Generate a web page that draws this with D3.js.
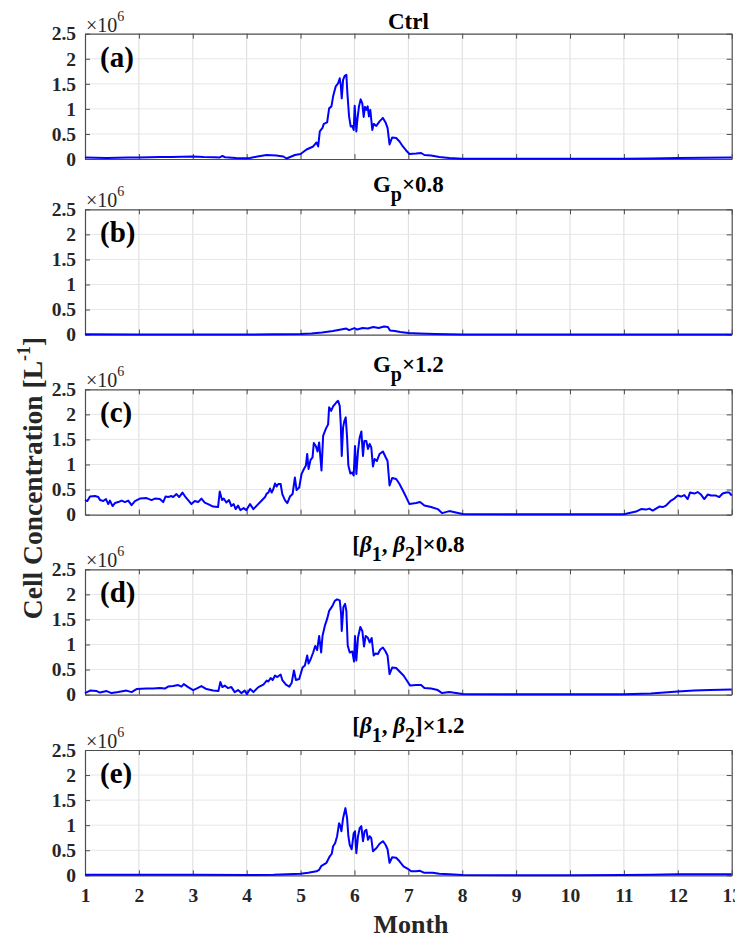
<!DOCTYPE html>
<html><head><meta charset="utf-8">
<script src="https://cdn.jsdelivr.net/npm/d3@7"></script>
<style>
html,body{margin:0;padding:0;background:#fff;}
svg{display:block;}
</style></head>
<body>
<svg id="chart" width="735" height="942"></svg>
<script>
// ---- data (values in units of 10^6 cells per litre) ----
const xTicks = [1,2,3,4,5,6,7,8,9,10,11,12,13];
const yTicks = [0,0.5,1,1.5,2,2.5];
const panelLabels = ["(a)","(b)","(c)","(d)","(e)"];

const monthsA = [1.0,1.2,1.4,1.6,1.8,2.0,2.2,2.4,2.6,2.8,3.0,3.2,3.4,3.5,3.55,3.6,3.8,4.0,4.06,4.2,4.37,4.55,4.68,4.74,4.895,5.0,5.111,5.234,5.296,5.327,5.357,5.407,5.431,5.493,5.53,5.573,5.604,5.653,5.696,5.727,5.746,5.764,5.789,5.819,5.85,5.869,5.9,5.93,5.961,5.986,6.004,6.035,6.054,6.084,6.115,6.146,6.171,6.195,6.22,6.245,6.269,6.294,6.331,6.356,6.405,6.466,6.528,6.577,6.614,6.651,6.7,6.774,6.836,6.898,6.959,7.021,7.144,7.237,7.298,7.421,7.575,7.76,8.0,9.0,10.0,11.0,11.5,12.0,12.5,13.0];
const valuesA = [0.03,0.025,0.02,0.025,0.03,0.03,0.035,0.04,0.04,0.045,0.05,0.04,0.035,0.03,0.06,0.035,0.02,0.015,0.02,0.05,0.08,0.07,0.05,0.01,0.08,0.10,0.19,0.25,0.33,0.25,0.55,0.62,0.70,0.73,1.01,1.05,1.25,1.45,1.51,1.61,1.48,1.21,1.58,1.66,1.68,1.31,0.85,0.65,0.66,0.58,1.06,0.55,0.78,1.05,1.19,1.11,0.84,1.04,0.98,1.05,0.85,0.98,0.58,0.70,0.66,0.75,0.82,0.73,0.62,0.29,0.43,0.42,0.35,0.25,0.17,0.10,0.11,0.12,0.08,0.07,0.04,0.02,0.005,0.003,0.003,0.005,0.01,0.02,0.025,0.03];

const monthsB = [1,2,3,4,4.5,5,5.2,5.4,5.6,5.75,5.85,5.9,6.0,6.05,6.15,6.25,6.35,6.45,6.55,6.62,6.66,6.75,6.85,7.0,7.2,7.5,8,9,10,11,12,13];
const valuesB = [0.005,0.004,0.004,0.004,0.005,0.01,0.02,0.04,0.07,0.10,0.12,0.09,0.13,0.10,0.13,0.12,0.15,0.13,0.16,0.15,0.08,0.07,0.05,0.03,0.02,0.01,0.004,0.004,0.004,0.004,0.004,0.004];

const monthsC = [1.0,1.043,1.093,1.185,1.247,1.278,1.34,1.389,1.432,1.463,1.512,1.556,1.617,1.679,1.741,1.802,1.864,1.926,2.019,2.142,2.235,2.296,2.389,2.451,2.494,2.543,2.605,2.636,2.698,2.747,2.809,2.852,2.914,2.975,3.037,3.099,3.16,3.222,3.284,3.377,3.469,3.5,3.543,3.574,3.623,3.673,3.716,3.759,3.796,3.84,3.883,3.944,3.994,4.063,4.125,4.187,4.279,4.341,4.372,4.402,4.433,4.464,4.495,4.526,4.556,4.587,4.63,4.661,4.71,4.754,4.803,4.852,4.895,4.926,4.975,5.018,5.062,5.099,5.123,5.148,5.185,5.222,5.246,5.283,5.314,5.345,5.388,5.419,5.468,5.511,5.53,5.567,5.604,5.635,5.665,5.696,5.727,5.746,5.764,5.789,5.813,5.838,5.863,5.887,5.924,5.961,5.986,6.01,6.035,6.066,6.097,6.128,6.158,6.183,6.22,6.251,6.282,6.312,6.343,6.374,6.417,6.466,6.528,6.577,6.614,6.651,6.7,6.774,6.836,6.898,6.959,7.021,7.144,7.218,7.298,7.421,7.545,7.625,7.76,7.883,8.007,9.0,10.0,11.0,11.101,11.225,11.318,11.41,11.472,11.534,11.596,11.658,11.719,11.781,11.874,11.936,11.998,12.059,12.121,12.183,12.226,12.307,12.368,12.43,12.492,12.554,12.616,12.708,12.77,12.832,12.894,12.956,13.0];
const valuesC = [0.29,0.27,0.36,0.37,0.35,0.29,0.27,0.31,0.21,0.28,0.17,0.23,0.25,0.28,0.25,0.28,0.19,0.27,0.32,0.33,0.29,0.32,0.31,0.25,0.36,0.35,0.37,0.35,0.41,0.35,0.44,0.37,0.29,0.21,0.27,0.25,0.32,0.24,0.21,0.16,0.15,0.46,0.29,0.32,0.24,0.29,0.17,0.21,0.11,0.18,0.09,0.13,0.09,0.21,0.11,0.18,0.28,0.35,0.42,0.44,0.52,0.44,0.51,0.62,0.56,0.61,0.61,0.41,0.29,0.23,0.36,0.41,0.74,0.49,0.54,0.81,0.91,0.98,1.21,0.91,1.09,1.14,1.43,1.37,1.26,1.44,0.88,1.57,1.71,1.80,2.14,2.07,2.16,2.20,2.24,2.27,2.17,1.80,1.17,1.74,1.87,1.94,1.54,0.98,0.82,0.84,0.78,1.37,0.81,1.27,1.54,1.66,1.17,1.47,1.47,1.31,1.41,1.34,0.96,1.11,1.07,1.21,1.26,1.15,1.07,0.58,0.73,0.71,0.61,0.48,0.35,0.21,0.23,0.25,0.18,0.15,0.11,0.03,0.07,0.04,0.01,0.005,0.005,0.005,0.03,0.06,0.11,0.10,0.12,0.08,0.12,0.16,0.15,0.18,0.28,0.32,0.38,0.36,0.39,0.31,0.44,0.42,0.45,0.40,0.31,0.40,0.38,0.38,0.35,0.42,0.44,0.44,0.38];

const monthsD = [1.0,1.093,1.216,1.278,1.401,1.494,1.617,1.772,1.864,1.957,2.142,2.265,2.389,2.481,2.543,2.636,2.728,2.79,2.833,2.914,3.006,3.068,3.16,3.253,3.377,3.475,3.512,3.549,3.593,3.654,3.716,3.778,3.84,3.901,3.963,4.006,4.063,4.125,4.217,4.31,4.372,4.402,4.445,4.482,4.526,4.569,4.63,4.661,4.729,4.791,4.834,4.877,4.914,4.975,5.037,5.08,5.123,5.148,5.185,5.234,5.271,5.308,5.345,5.382,5.407,5.45,5.493,5.53,5.592,5.635,5.678,5.727,5.752,5.764,5.795,5.826,5.85,5.875,5.912,5.961,5.992,6.01,6.035,6.066,6.109,6.146,6.177,6.208,6.245,6.282,6.319,6.356,6.392,6.436,6.479,6.528,6.577,6.614,6.651,6.7,6.774,6.836,6.91,6.972,7.033,7.144,7.237,7.298,7.421,7.545,7.625,7.76,7.883,8.007,9.0,10.0,11.0,11.5,12.0,12.3,12.6,13.0];
const valuesD = [0.03,0.08,0.07,0.04,0.07,0.03,0.05,0.08,0.05,0.11,0.12,0.12,0.13,0.12,0.16,0.17,0.19,0.16,0.21,0.15,0.09,0.12,0.17,0.11,0.08,0.07,0.25,0.15,0.18,0.13,0.15,0.05,0.09,0.03,0.08,0.01,0.11,0.05,0.15,0.20,0.28,0.26,0.33,0.29,0.38,0.35,0.40,0.29,0.20,0.16,0.23,0.48,0.29,0.31,0.54,0.58,0.78,0.62,0.70,0.84,0.97,0.89,1.17,0.84,1.17,1.37,1.51,1.67,1.77,1.87,1.90,1.88,1.61,1.27,1.75,1.81,1.67,0.98,0.84,0.86,0.66,1.17,0.68,1.14,1.35,1.27,0.96,1.17,1.14,1.04,1.13,0.78,0.82,0.81,0.90,0.94,0.86,0.78,0.41,0.54,0.53,0.46,0.38,0.28,0.18,0.19,0.19,0.13,0.12,0.09,0.03,0.05,0.03,0.01,0.005,0.005,0.006,0.02,0.06,0.08,0.09,0.10];

const monthsE = [1,2,3,4,4.063,4.5,5.0,5.142,5.296,5.345,5.388,5.481,5.542,5.579,5.604,5.641,5.678,5.715,5.739,5.758,5.789,5.832,5.863,5.887,5.912,5.949,5.986,6.01,6.035,6.066,6.097,6.128,6.158,6.189,6.22,6.251,6.282,6.312,6.343,6.405,6.466,6.528,6.577,6.614,6.651,6.7,6.774,6.836,6.91,6.99,7.052,7.144,7.218,7.298,7.452,7.575,7.76,8.007,9,10,11,11.5,12,13];
const valuesE = [0.01,0.01,0.01,0.005,0.005,0.01,0.03,0.05,0.08,0.11,0.19,0.25,0.38,0.43,0.58,0.64,0.78,1.04,0.98,0.88,1.14,1.34,1.14,0.78,0.61,0.52,0.84,0.88,0.44,0.78,0.94,0.98,0.68,0.88,0.91,0.71,0.78,0.74,0.48,0.54,0.63,0.68,0.61,0.52,0.25,0.36,0.35,0.28,0.18,0.13,0.08,0.08,0.09,0.05,0.05,0.03,0.02,0.005,0.003,0.003,0.004,0.01,0.02,0.02];

const seriesMonths = [monthsA, monthsB, monthsC, monthsD, monthsE];
const seriesValues = [valuesA, valuesB, valuesC, valuesD, valuesE];

// ---- layout ----
const svg = d3.select("#chart");
const X0 = 85, X1 = 731.7;
const panelTops = [33.7, 209.3, 389.3, 569.3, 750];
const panelH = 125.3;
const FONT = "'Liberation Serif','Times New Roman',serif";
const axisColor = "#4d4d4d";
const textColor = "#262626";

const x = d3.scaleLinear().domain([1,13]).range([X0, X1]);

// titles: arrays of text parts
const titles = [
  [{t:"Ctrl"}],
  [{t:"G"},{t:"p",sub:true},{t:"×0.8"}],
  [{t:"G"},{t:"p",sub:true},{t:"×1.2"}],
  [{t:"["},{t:"β",it:true},{t:"1",sub:true},{t:", "},{t:"β",it:true},{t:"2",sub:true},{t:"]×0.8"}],
  [{t:"["},{t:"β",it:true},{t:"1",sub:true},{t:", "},{t:"β",it:true},{t:"2",sub:true},{t:"]×1.2"}]
];

panelTops.forEach((top, i) => {
  const bottom = top + panelH;
  const y = d3.scaleLinear().domain([0,2.5]).range([bottom, top]);
  const g = svg.append("g");

  // grid
  g.append("g").selectAll("line").data(xTicks.slice(1,-1)).join("line")
    .attr("x1", d => x(d)).attr("x2", d => x(d)).attr("y1", top).attr("y2", bottom)
    .attr("stroke", "#dcdcdc").attr("stroke-width", 1);
  g.append("g").selectAll("line").data(yTicks.slice(1,-1)).join("line")
    .attr("x1", X0).attr("x2", X1).attr("y1", d => y(d)).attr("y2", d => y(d))
    .attr("stroke", "#e6e6e6").attr("stroke-width", 1);

  // axes
  const last = i === panelTops.length - 1;
  const bAxis = d3.axisBottom(x).tickValues(xTicks).tickSizeInner(-5).tickSizeOuter(0).tickPadding(13)
    .tickFormat(last ? d3.format("d") : () => "");
  const tAxis = d3.axisTop(x).tickValues(xTicks).tickSizeInner(-5).tickSizeOuter(0).tickFormat(() => "");
  const lAxis = d3.axisLeft(y).tickValues(yTicks).tickSizeInner(-5).tickSizeOuter(0).tickPadding(9)
    .tickFormat(d => d3.format("")(d));
  const rAxis = d3.axisRight(y).tickValues(yTicks).tickSizeInner(-5).tickSizeOuter(0).tickFormat(() => "");

  const styleAxis = sel => {
    sel.selectAll("path.domain").attr("stroke", axisColor).attr("stroke-width", 1.2);
    sel.selectAll(".tick line").attr("stroke", axisColor).attr("stroke-width", 1);
    sel.selectAll(".tick text").attr("fill", textColor).attr("font-family", FONT)
      .attr("font-size", 19.5).attr("font-weight", "bold");
  };
  g.append("g").attr("transform", `translate(0,${bottom})`).call(bAxis).call(styleAxis);
  g.append("g").attr("transform", `translate(0,${top})`).call(tAxis).call(styleAxis);
  g.append("g").attr("transform", `translate(${X0},0)`).call(lAxis).call(styleAxis);
  g.append("g").attr("transform", `translate(${X1},0)`).call(rAxis).call(styleAxis);

  // data line
  const pts = seriesMonths[i].map((m, k) => [m, seriesValues[i][k]]);
  const line = d3.line().x(d => x(d[0])).y(d => y(d[1]));
  g.append("path").datum(pts).attr("d", line)
    .attr("fill", "none").attr("stroke", "#0000ff").attr("stroke-width", 2)
    .attr("stroke-linejoin", "round");

  // exponent label
  const ex = g.append("text").attr("x", X0 + 1).attr("y", top - 2)
    .attr("font-family", FONT).attr("font-size", 20).attr("fill", textColor);
  ex.append("tspan").text("×10");
  ex.append("tspan").attr("font-size", 14).attr("dy", -11).text("6");

  // panel label
  g.append("text").attr("x", X0 + 15).attr("y", top + 33)
    .attr("font-family", FONT).attr("font-size", 29).attr("font-weight", "bold")
    .attr("fill", "#000").text(panelLabels[i]);

  // title
  const hasSub = titles[i].some(p => p.sub);
  const tt = g.append("text").attr("x", (X0 + X1) / 2).attr("y", hasSub ? top - 17 : top - 4.5)
    .attr("text-anchor", "middle").attr("font-family", FONT).attr("font-size", 23)
    .attr("font-weight", "bold").attr("fill", "#000");
  let shifted = false;
  titles[i].forEach(p => {
    const ts = tt.append("tspan").text(p.t);
    if (p.it) ts.attr("font-style", "italic");
    if (p.sub) { ts.attr("dy", 9).attr("font-size", 20); shifted = true; }
    else if (shifted) { ts.attr("dy", -9); shifted = false; }
  });
});

// axis titles
svg.append("text").attr("x", 411).attr("y", 932.5).attr("text-anchor", "middle")
  .attr("font-family", FONT).attr("font-size", 26).attr("font-weight", "bold").attr("fill", textColor)
  .text("Month");

const yl = svg.append("text").attr("transform", "translate(42,478) rotate(-90)")
  .attr("text-anchor", "middle").attr("font-family", FONT).attr("font-size", 27.5)
  .attr("font-weight", "bold").attr("fill", textColor);
yl.append("tspan").text("Cell Concentration [L");
yl.append("tspan").attr("font-size", 18).attr("dy", -12).text("-1");
yl.append("tspan").attr("dy", 12).text("]");
</script>
</body></html>
